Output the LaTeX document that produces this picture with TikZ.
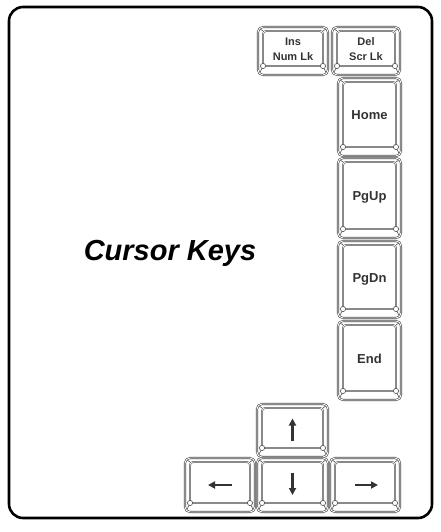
\documentclass[tikz,border=0pt]{standalone}
\usepackage{fontspec}
\setmainfont{Liberation Sans}
\usetikzlibrary{arrows.meta}
\definecolor{keyline}{HTML}{4A4A4A}
\definecolor{keytext}{HTML}{333333}
\tikzset{
  keycap/.style={draw=keyline, line width=0.6pt, double=white, double distance=0.9pt,
    rounded corners=5pt, fill=white, inner sep=0pt, align=center, text=keytext,
    font=\bfseries\fontsize{11}{12}\selectfont,
    path picture={
      \draw[keyline, line width=0.55pt, double=white, double distance=0.7pt, rounded corners=3pt]
        ([xshift=5pt,yshift=9pt]path picture bounding box.south west) rectangle
        ([xshift=-5pt,yshift=-4pt]path picture bounding box.north east);
      \draw[keyline, line width=0.55pt]
        ([xshift=5pt,yshift=9pt]path picture bounding box.south west) -- ([xshift=1.5pt,yshift=1.5pt]path picture bounding box.south west)
        ([xshift=-5pt,yshift=9pt]path picture bounding box.south east) -- ([xshift=-1.5pt,yshift=1.5pt]path picture bounding box.south east)
        ([xshift=5pt,yshift=-4pt]path picture bounding box.north west) -- ([xshift=1.5pt,yshift=-1.5pt]path picture bounding box.north west)
        ([xshift=-5pt,yshift=-4pt]path picture bounding box.north east) -- ([xshift=-1.5pt,yshift=-1.5pt]path picture bounding box.north east);
      \draw[keyline, fill=white, line width=0.55pt]
        ([xshift=5pt,yshift=9pt]path picture bounding box.south west) circle (2.6pt)
        ([xshift=-5pt,yshift=9pt]path picture bounding box.south east) circle (2.6pt);
    }},
  bigkey/.style={keycap, font=\bfseries\fontsize{13}{15}\selectfont},
  arrowkey/.style={draw=keytext, line width=2.2pt, -{Triangle[length=7pt,width=7pt]}},
  frame/.style={draw=black, line width=2.6pt, rounded corners=14pt}
}
\begin{document}
\begin{tikzpicture}[x=1pt,y=-1pt]
\useasboundingbox (0,0) rectangle (440,532);
\draw[frame] (9,7) rectangle (432,518);
\node[font=\bfseries\itshape\fontsize{29}{34}\selectfont] (title) at (170,253) {Cursor Keys};

\node[keycap, minimum width=70pt, minimum height=48pt] (ins) at (293,51) {\raisebox{3pt}{\begin{tabular}{@{}c@{}}Ins\\[3pt]Num Lk\end{tabular}}};
\node[keycap, minimum width=68pt, minimum height=48pt] (del) at (366,51) {\raisebox{3pt}{\begin{tabular}{@{}c@{}}Del\\[3pt]Scr Lk\end{tabular}}};
\node[bigkey, minimum width=63pt, minimum height=78pt] (home) at (369.5,117) {\raisebox{3pt}{Home}};
\node[bigkey, minimum width=63pt, minimum height=80pt] (pgup) at (369.5,198) {\raisebox{3pt}{PgUp}};
\node[bigkey, minimum width=63pt, minimum height=77pt] (pgdn) at (369.5,279.5) {\raisebox{3pt}{PgDn}};
\node[bigkey, minimum width=63pt, minimum height=79pt] (end) at (369.5,360.5) {\raisebox{3pt}{End}};

\node[keycap, minimum width=71pt, minimum height=53pt] (up) at (292.5,430.5) {};
\node[keycap, minimum width=70pt, minimum height=54pt] (left) at (220,485) {};
\node[keycap, minimum width=71pt, minimum height=54pt] (down) at (292.5,485) {};
\node[keycap, minimum width=70pt, minimum height=54pt] (right) at (365,485) {};

\draw[arrowkey] ([yshift=-10pt]up.center) -- ([yshift=12pt]up.center);
\draw[arrowkey] ([yshift=12pt]down.center) -- ([yshift=-10pt]down.center);
\draw[arrowkey] ([xshift=12pt]left.center) -- ([xshift=-12pt]left.center);
\draw[arrowkey] ([xshift=-10pt]right.center) -- ([xshift=13pt]right.center);
\end{tikzpicture}
\end{document}
